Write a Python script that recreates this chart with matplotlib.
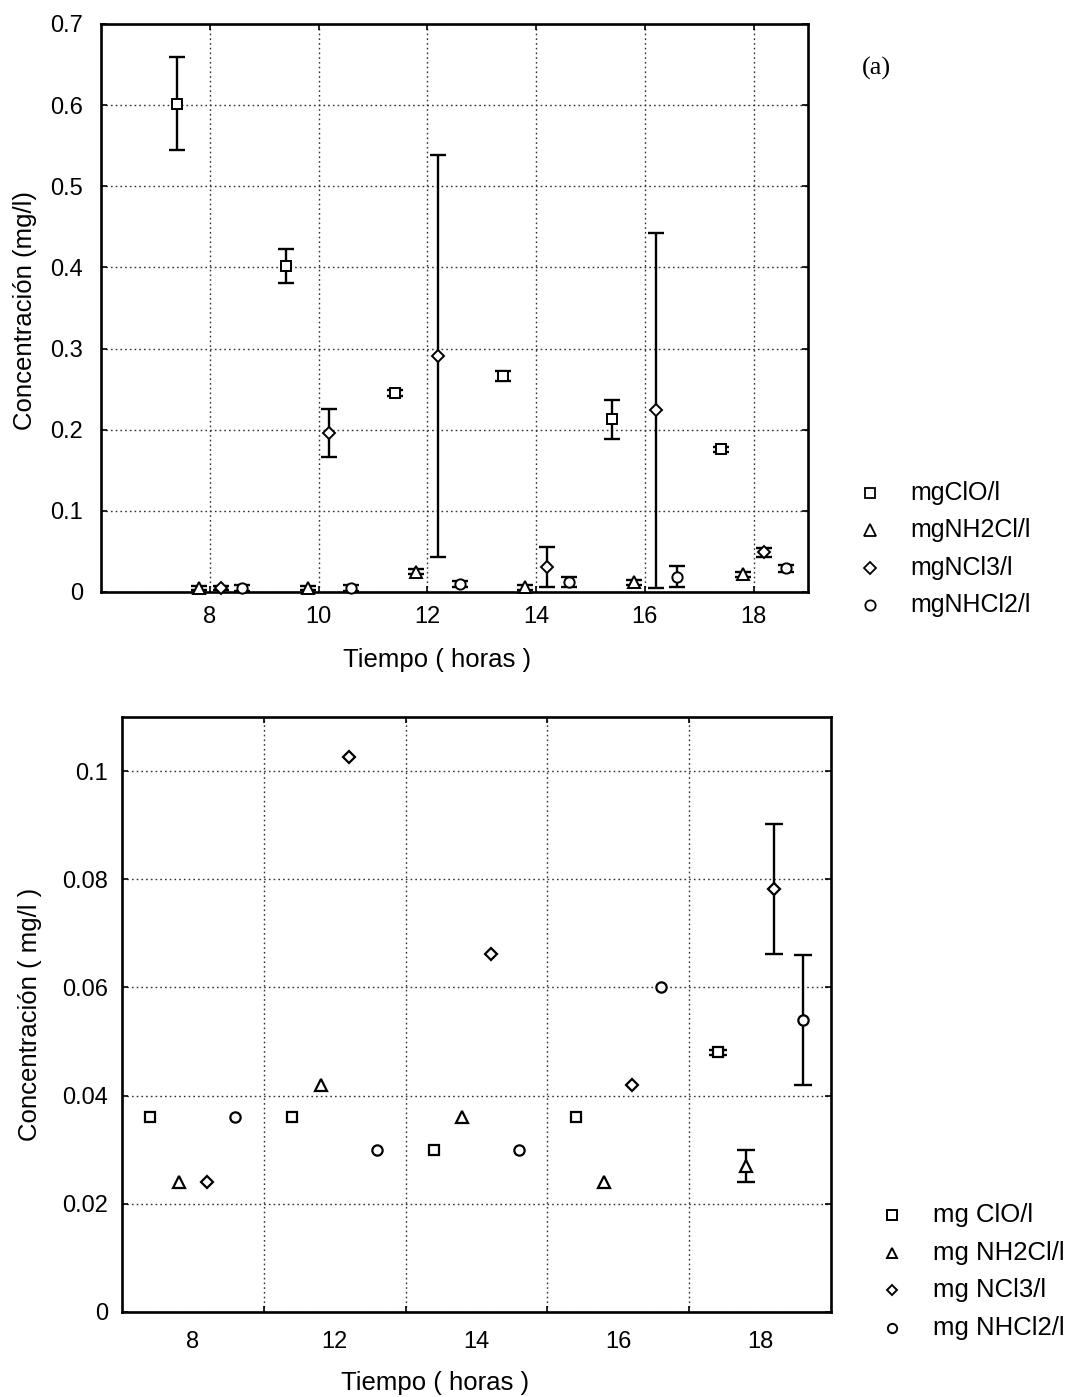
import numpy as np
import matplotlib
matplotlib.use("Agg")
import matplotlib.pyplot as plt
from matplotlib.lines import Line2D

plt.rcParams['font.family'] = ['Liberation Sans', 'DejaVu Sans']

# ---- (a) hourly sampling: mean and error per species ----
hours_a = [8, 10, 12, 14, 16, 18]
clo_a = [0.602, 0.402, 0.245, 0.266, 0.213, 0.176]
clo_a_err = [0.057, 0.021, 0.004, 0.006, 0.024, 0.003]
nh2cl_a = [0.005, 0.005, 0.025, 0.006, 0.012, 0.022]
nh2cl_a_err = [0.003, 0.003, 0.003, 0.003, 0.003, 0.003]
ncl3_a = [0.005, 0.196, 0.291, 0.031, 0.224, 0.049]
ncl3_a_err = [0.002, 0.030, 0.248, 0.025, 0.219, 0.0055]
nhcl2_a = [0.005, 0.005, 0.010, 0.012, 0.019, 0.029]
nhcl2_a_err = [0.004, 0.004, 0.004, 0.006, 0.0125, 0.004]
labels_a = ['mgClO/l', 'mgNH2Cl/l', 'mgNCl3/l', 'mgNHCl2/l']
yticks_a = [0, 0.1, 0.2, 0.3, 0.4, 0.5, 0.6, 0.7]
yticklabels_a = ['0', '0.1', '0.2', '0.3', '0.4', '0.5', '0.6', '0.7']

# ---- (b) second sampling ----
groups_b = ['8', '12', '14', '16', '18']
clo_b = [0.036, 0.036, 0.030, 0.036, 0.048]
clo_b_err = [0, 0, 0, 0, 0.0004]
nh2cl_b = [0.024, 0.042, 0.036, 0.024, 0.027]
nh2cl_b_err = [0, 0, 0, 0, 0.003]
ncl3_b = [0.024, 0.1026, 0.0662, 0.042, 0.0782]
ncl3_b_err = [0, 0, 0, 0, 0.012]
nhcl2_b = [0.036, 0.030, 0.030, 0.060, 0.054]
nhcl2_b_err = [0, 0, 0, 0, 0.012]
labels_b = ['mg ClO/l', 'mg NH2Cl/l', 'mg NCl3/l', 'mg NHCl2/l']
yticks_b = [0, 0.02, 0.04, 0.06, 0.08, 0.1]
yticklabels_b = ['0', '0.02', '0.04', '0.06', '0.08', '0.1']

# marker style per species (ClO, NH2Cl, NCl3, NHCl2)
markers = ['s', '^', 'D', 'o']
msizes = [7.4, 8.2, 5.8, 7.4]
offsets_a = [-0.6, -0.2, 0.2, 0.6]   # hours
offsets_b = [-0.3, -0.1, 0.1, 0.3]   # group spacing units

GRID = dict(color='#333333', linestyle=(0, (1.2, 2.2)), linewidth=1.0)
TICKFS = 17
LABELFS = 18.5

fig = plt.figure(figsize=(10.73, 13.97), dpi=100)

# ================= upper panel =================
ax1 = fig.add_axes([101 / 1073, 1 - 592 / 1397, 707 / 1073, 568 / 1397])
series_a = [(clo_a, clo_a_err), (nh2cl_a, nh2cl_a_err),
            (ncl3_a, ncl3_a_err), (nhcl2_a, nhcl2_a_err)]
for (vals, errs), m, ms, off in zip(series_a, markers, msizes, offsets_a):
    x = np.array(hours_a, dtype=float) + off
    ax1.errorbar(x, vals, yerr=errs, fmt='none', ecolor='black',
                 elinewidth=1.7, capsize=6, capthick=1.7, zorder=3)
    ax1.plot(x, vals, linestyle='none', marker=m, ms=ms, mfc='white',
             mec='black', mew=1.4, zorder=4, clip_on=False)

ax1.set_xlim(6, 19)
ax1.set_ylim(0, 0.7)
ax1.set_xticks(hours_a)
ax1.set_xticklabels([str(h) for h in hours_a])
ax1.set_yticks(yticks_a)
ax1.set_yticklabels(yticklabels_a)
ax1.grid(True, **GRID)
ax1.tick_params(axis='both', direction='in', length=4, width=1.2,
                labelsize=TICKFS, top=True, right=True)
ax1.tick_params(axis='x', pad=10)
ax1.tick_params(axis='y', pad=13)
for s in ax1.spines.values():
    s.set_linewidth(1.9)

fig.text(25 / 1073, 1 - 310 / 1397, 'Concentración (mg/l)', rotation=90,
         ha='center', va='center', fontsize=LABELFS)
fig.text(437 / 1073, 1 - 660 / 1397, 'Tiempo ( horas )',
         ha='center', va='center', fontsize=LABELFS)
fig.text(876 / 1073, 1 - 68 / 1397, '(a)', ha='center', va='center',
         fontsize=19, family=['Liberation Serif', 'DejaVu Serif'])

rows_a = [493, 530, 568, 605]
for lab, m, ms, ry in zip(labels_a, markers, msizes, rows_a):
    fig.add_artist(Line2D([870 / 1073], [1 - ry / 1397], transform=fig.transFigure,
                          marker=m, ms=ms, mfc='white', mec='black',
                          mew=1.3, linestyle='none'))
    fig.text(910 / 1073, 1 - ry / 1397, lab, ha='left', va='center', fontsize=18)

# ================= lower panel =================
ax2 = fig.add_axes([122 / 1073, 1 - 1312 / 1397, 709 / 1073, 595 / 1397])
series_b = [(clo_b, clo_b_err), (nh2cl_b, nh2cl_b_err),
            (ncl3_b, ncl3_b_err), (nhcl2_b, nhcl2_b_err)]
gpos = np.arange(len(groups_b), dtype=float)
for (vals, errs), m, ms, off in zip(series_b, markers, msizes, offsets_b):
    x = gpos + off
    v = np.array(vals)
    e = np.array(errs)
    has = e > 0
    if has.any():
        ax2.errorbar(x[has], v[has], yerr=e[has], fmt='none', ecolor='black',
                     elinewidth=1.7, capsize=6.5, capthick=1.7, zorder=3)
    ax2.plot(x, v, linestyle='none', marker=m, ms=ms, mfc='white',
             mec='black', mew=1.6, zorder=4)

ax2.set_xlim(-0.5, len(groups_b) - 0.5)
ax2.set_ylim(0, 0.11)
ax2.set_xticks(gpos)
ax2.set_xticklabels(groups_b)
ax2.set_xticks(gpos[:-1] + 0.5, minor=True)
ax2.set_yticks(yticks_b)
ax2.set_yticklabels(yticklabels_b)
ax2.grid(True, axis='y', which='major', **GRID)
ax2.grid(True, axis='x', which='minor', **GRID)
ax2.tick_params(axis='x', which='major', length=0, labelsize=TICKFS, pad=14)
ax2.tick_params(axis='x', which='minor', direction='in', length=4, width=1.2,
                top=True, bottom=True)
ax2.tick_params(axis='y', direction='in', length=4, width=1.2,
                labelsize=TICKFS, right=True, pad=10)
for s in ax2.spines.values():
    s.set_linewidth(1.9)

fig.text(30 / 1073, 1 - 1014 / 1397, 'Concentración ( mg/l )', rotation=90,
         ha='center', va='center', fontsize=LABELFS)
fig.text(435 / 1073, 1 - 1383 / 1397, 'Tiempo ( horas )',
         ha='center', va='center', fontsize=LABELFS)

rows_b = [1215, 1253, 1290, 1328]
for lab, m, ms, ry in zip(labels_b, markers, msizes, rows_b):
    fig.add_artist(Line2D([892 / 1073], [1 - ry / 1397], transform=fig.transFigure,
                          marker=m, ms=ms * 0.9, mfc='white', mec='black',
                          mew=1.4, linestyle='none'))
    fig.text(933 / 1073, 1 - ry / 1397, lab, ha='left', va='center', fontsize=18.5)

fig.savefig('out.png', dpi=100)
